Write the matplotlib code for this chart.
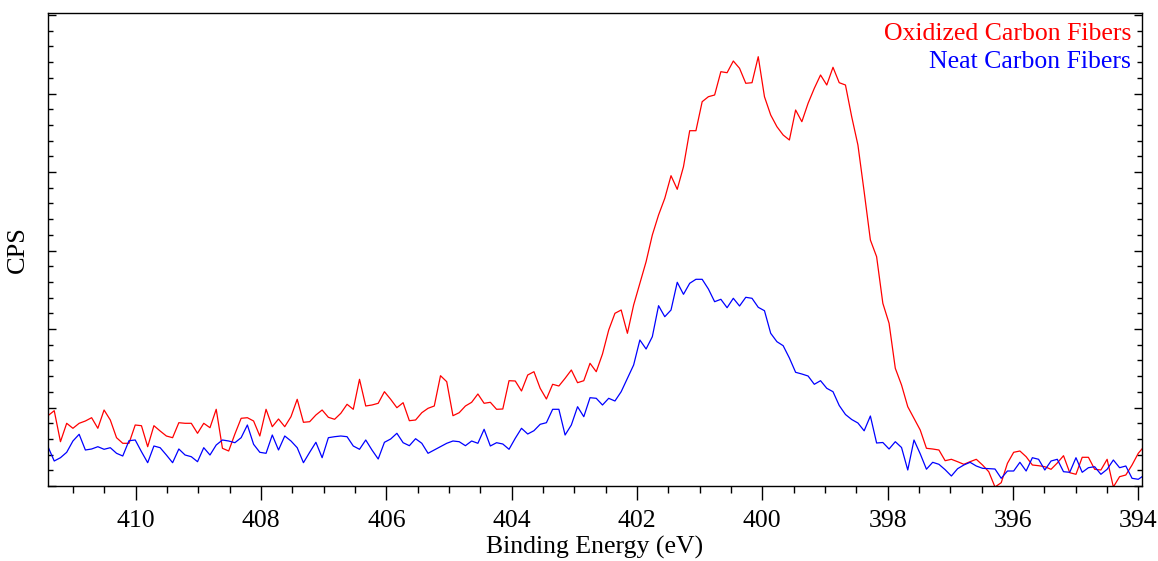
import numpy as np
import matplotlib
matplotlib.use("Agg")
import matplotlib.pyplot as plt
from matplotlib.ticker import MultipleLocator, NullFormatter

plt.rcParams['font.family'] = ['Liberation Serif', 'DejaVu Serif']

# Binding energy grid (eV), from high to low
energy_start = 411.40
energy_end = 393.90
n_points = 177
binding_energy = np.linspace(energy_start, energy_end, n_points)

oxidized_cps = [
    703, 753, 443, 627, 577, 627, 650, 683, 577, 760,
    660, 483, 427, 427, 610, 603, 393, 603, 550, 500,
    483, 633, 627, 627, 527, 627, 583, 767, 377, 350,
    520, 677, 683, 650, 500, 767, 593, 670, 593, 693,
    867, 637, 643, 710, 760, 687, 667, 727, 817, 767,
    1067, 800, 810, 827, 943, 867, 783, 833, 653, 660,
    733, 777, 800, 1103, 1043, 703, 733, 800, 837, 920,
    827, 837, 767, 770, 1053, 1050, 950, 1110, 1143, 977,
    870, 1017, 1000, 1077, 1160, 1033, 1053, 1227, 1143, 1320,
    1560, 1727, 1760, 1527, 1810, 2027, 2243, 2510, 2710, 2877,
    3103, 2967, 3193, 3553, 3553, 3843, 3893, 3910, 4143, 4133,
    4250, 4177, 4027, 4033, 4293, 3893, 3710, 3593, 3510, 3460,
    3760, 3643, 3827, 3977, 4110, 4010, 4187, 4033, 4010, 3693,
    3410, 2943, 2460, 2293, 1827, 1627, 1177, 1010, 793, 677,
    560, 377, 370, 360, 253, 267, 243, 217, 243, 267,
    210, 143, -10, 33, 227, 337, 350, 293, 210, 203,
    193, 167, 230, 303, 133, 117, 287, 287, 167, 160,
    267, -10, 93, 110, 210, 327, 400,
]

neat_cps = [
    393, 250, 283, 337, 450, 517, 360, 370, 393, 367,
    383, 327, 300, 453, 460, 343, 233, 400, 383, 310,
    233, 370, 310, 293, 243, 383, 310, 410, 460, 450,
    433, 483, 610, 417, 337, 327, 510, 360, 500, 450,
    383, 233, 337, 437, 283, 483, 493, 500, 493, 400,
    367, 460, 360, 270, 437, 470, 527, 433, 403, 473,
    427, 327, 360, 393, 427, 450, 443, 403, 450, 427,
    567, 400, 433, 420, 367, 477, 577, 520, 553, 617,
    633, 767, 767, 510, 610, 793, 693, 883, 877, 810,
    877, 850, 943, 1077, 1210, 1460, 1370, 1493, 1803, 1693,
    1760, 2037, 1917, 2027, 2067, 2067, 1970, 1843, 1867, 1783,
    1877, 1800, 1887, 1877, 1787, 1753, 1527, 1443, 1403, 1280,
    1137, 1120, 1100, 1017, 1053, 977, 943, 805, 715, 665,
    630, 552, 700, 430, 435, 370, 443, 385, 160, 460,
    322, 168, 237, 217, 163, 100, 173, 210, 237, 200,
    177, 173, 170, 77, 150, 150, 237, 150, 283, 267,
    160, 250, 267, 143, 137, 283, 137, 183, 193, 117,
    167, 260, 183, 200, 77, 67, 110,
]

series_labels = ["Oxidized Carbon Fibers", "Neat Carbon Fibers"]
series_colors = ["#ff0000", "#0000ff"]
x_ticks = [410, 408, 406, 404, 402, 400, 398, 396, 394]

fig = plt.figure(figsize=(11.58, 5.61), dpi=100)
ax = fig.add_axes([48 / 1158, 1 - 486 / 561, 1094 / 1158, 473 / 561])

ax.plot(binding_energy, oxidized_cps, color=series_colors[0], lw=0.9)
ax.plot(binding_energy, neat_cps, color=series_colors[1], lw=0.9)

ax.set_xlim(411.40, 393.94)
ax.set_ylim(0, 4730)

ax.set_xticks(x_ticks)
ax.set_xticklabels([str(t) for t in x_ticks])
ax.xaxis.set_minor_locator(MultipleLocator(0.5))
ax.yaxis.set_major_locator(MultipleLocator(785))
ax.yaxis.set_minor_locator(MultipleLocator(157))
ax.yaxis.set_major_formatter(NullFormatter())

ax.tick_params(axis='x', which='major', direction='out', length=10, width=1,
               labelsize=18.5, pad=7, top=False)
ax.tick_params(axis='x', which='minor', direction='out', length=5, width=1, top=False)
ax.tick_params(axis='y', which='major', direction='in', length=6, width=1,
               left=True, right=True)
ax.tick_params(axis='y', which='minor', direction='in', length=3.5, width=1,
               left=True, right=True)

for sp in ax.spines.values():
    sp.set_linewidth(1.0)
    sp.set_color('black')

ax.set_xlabel("Binding Energy (eV)", fontsize=18.5, labelpad=3)
ax.set_ylabel("CPS", fontsize=19, labelpad=10)

ax.text(0.990, 0.9556, series_labels[0], color=series_colors[0], fontsize=18.5,
        ha='right', va='center', transform=ax.transAxes)
ax.text(0.990, 0.896, series_labels[1], color=series_colors[1], fontsize=18.5,
        ha='right', va='center', transform=ax.transAxes)

fig.savefig("out.png", dpi=100)
